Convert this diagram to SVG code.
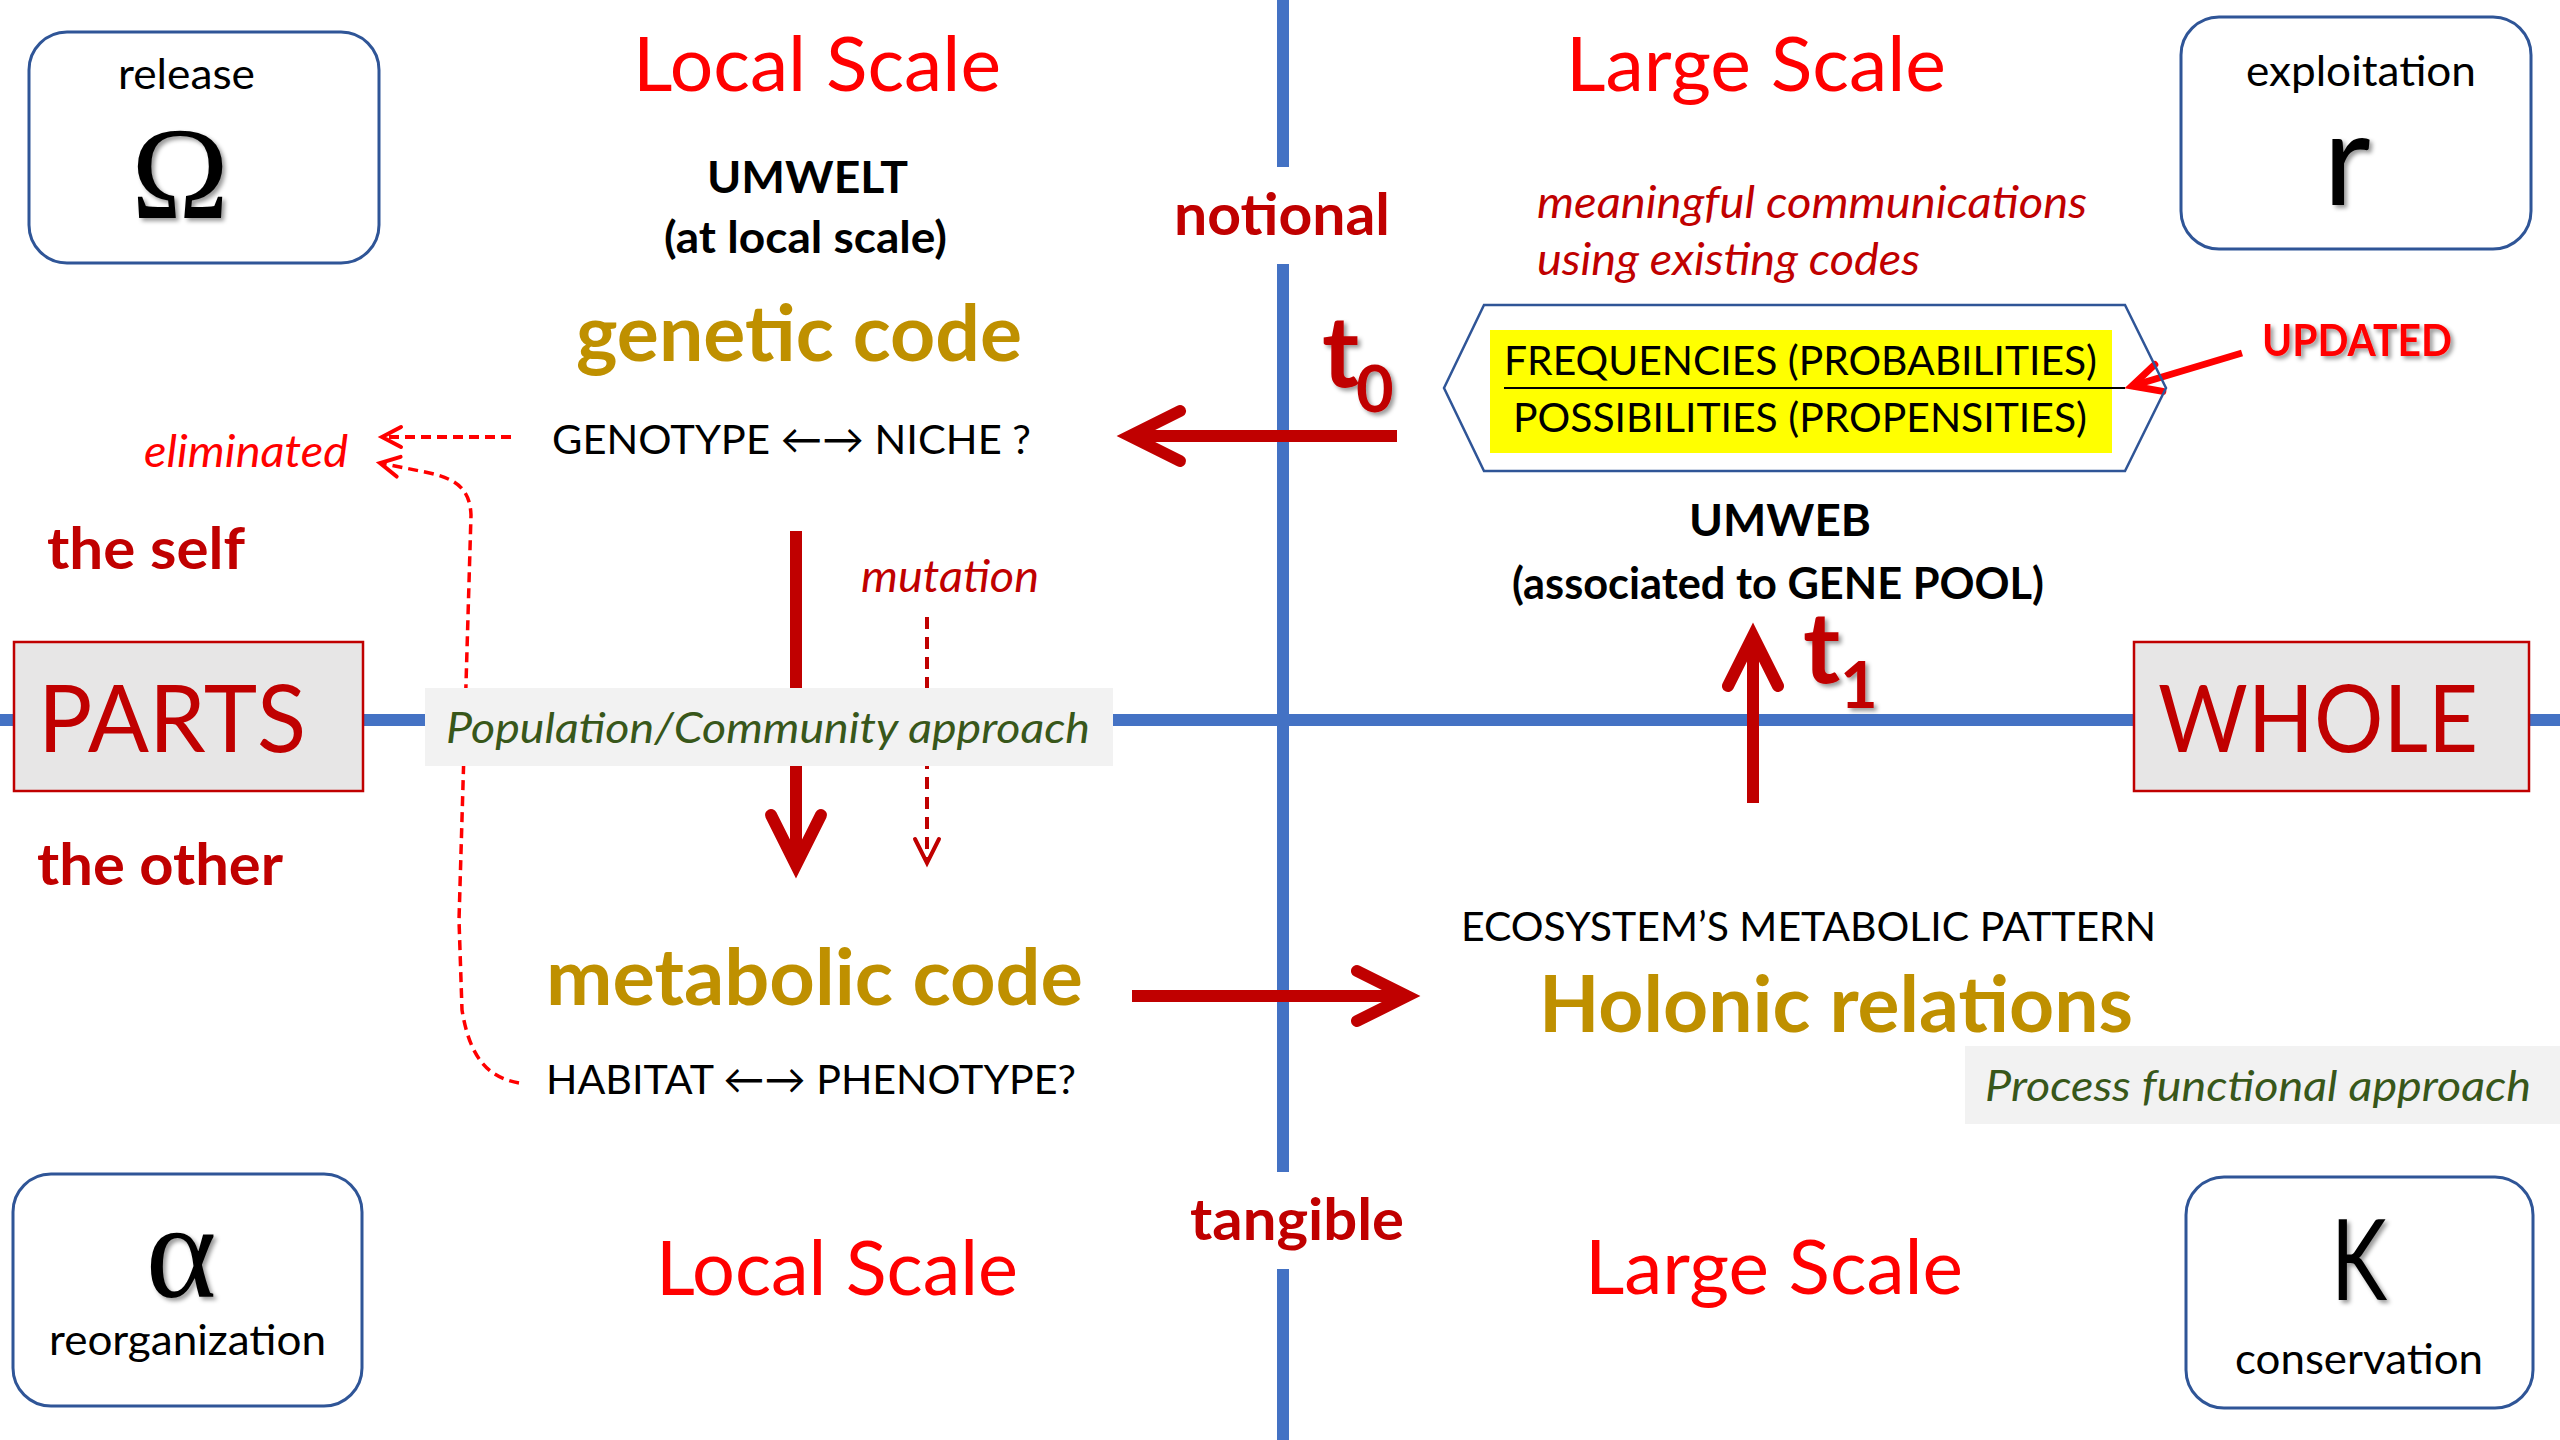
<svg xmlns="http://www.w3.org/2000/svg" width="2560" height="1440" viewBox="0 0 2560 1440">
<style>
  text { font-family: Lato, "Open Sans", "DejaVu Sans", sans-serif; }
  .box { fill: #ffffff; stroke: #2F5597; stroke-width: 3; }
  .lbl { font-size: 42px; fill: #000; }
  .greek { font-family: "Liberation Serif", "DejaVu Serif", serif; fill: #000; }
  .big { font-size: 76px; fill: #FF0000; }
  .dr { fill: #C00000; font-weight: bold; font-size: 58px; }
  .gold { fill: #BF9000; font-weight: bold; font-size: 78px; }
  .caps { font-size: 41px; fill: #000; }
  .ital-r { font-style: italic; fill: #C00000; font-size: 44px; }
  .green { font-style: italic; fill: #38571A; font-size: 42px; }
  .grey { fill: #F2F2F2; }
  .pw { fill: #E7E6E6; stroke: #C00000; stroke-width: 2.5; }
  .pwt { fill: #C00000; font-size: 93px; }
  .axis { stroke: #4472C4; stroke-width: 12; fill: none; }
  .thick { stroke: #C00000; stroke-width: 12; fill: none; }
  .blk { font-weight: bold; font-size: 44px; fill: #000; }
</style>
<defs>
  <filter id="sh" x="-20%" y="-20%" width="150%" height="150%">
    <feDropShadow dx="3" dy="3" stdDeviation="2" flood-color="#000" flood-opacity="0.4"/>
  </filter>
  <marker id="mBig" markerUnits="userSpaceOnUse" viewBox="-70 -40 90 80" markerWidth="90" markerHeight="80" refX="0" refY="0" orient="auto" overflow="visible">
    <path d="M -50 -25 L 0 0 L -50 25" fill="none" stroke="#C00000" stroke-width="12" stroke-linecap="round" stroke-linejoin="miter"/>
  </marker>
  <marker id="mUpd" markerUnits="userSpaceOnUse" viewBox="-40 -25 50 50" markerWidth="50" markerHeight="50" refX="0" refY="0" orient="auto" overflow="visible">
    <path d="M -28 -14 L 0 0 L -28 14" fill="none" stroke="#FF0000" stroke-width="7" stroke-linecap="round" stroke-linejoin="miter"/>
  </marker>
  <marker id="mDashR" markerUnits="userSpaceOnUse" viewBox="-30 -20 40 40" markerWidth="40" markerHeight="40" refX="0" refY="0" orient="auto" overflow="visible">
    <path d="M -19 -10 L 0 0 L -19 10" fill="none" stroke="#FF0000" stroke-width="4" stroke-linecap="round" stroke-linejoin="miter"/>
  </marker>
  <marker id="mDashDR" markerUnits="userSpaceOnUse" viewBox="-30 -20 40 40" markerWidth="40" markerHeight="40" refX="0" refY="0" orient="auto" overflow="visible">
    <path d="M -24 -12 L 0 0 L -24 12" fill="none" stroke="#C00000" stroke-width="4" stroke-linecap="round" stroke-linejoin="miter"/>
  </marker>
</defs>
<rect width="2560" height="1440" fill="#ffffff"/>

<g id="axes">
  <line class="axis" x1="1283" y1="0" x2="1283" y2="167"/>
  <line class="axis" x1="1283" y1="264" x2="1283" y2="1172"/>
  <line class="axis" x1="1283" y1="1269" x2="1283" y2="1440"/>
  <line class="axis" x1="0" y1="720" x2="2560" y2="720"/>
</g>

<g id="connectors">
  <path id="c-t0" class="thick" d="M 1397 436 L 1130 436" marker-end="url(#mBig)"/>
  <path id="c-t1" class="thick" d="M 1753 803 L 1753 636" marker-end="url(#mBig)"/>
  <path id="c-down" class="thick" d="M 796 531 L 796 865" marker-end="url(#mBig)"/>
  <path id="c-holo" class="thick" d="M 1132 996 L 1407 996" stroke-width="11" marker-end="url(#mBig)"/>
  <path id="c-upd" d="M 2242 353 L 2132 386" fill="none" stroke="#FF0000" stroke-width="7" marker-end="url(#mUpd)"/>
  <path id="c-elim1" d="M 511 437 L 382 437" fill="none" stroke="#FF0000" stroke-width="4" stroke-dasharray="10 6" marker-end="url(#mDashR)"/>
  <path id="c-elim2" d="M 519 1083 C 490 1078 470 1060 462 1010 L 459 920 L 471 515 C 470 488 455 478 425 472 L 380 463" fill="none" stroke="#FF0000" stroke-width="3.5" stroke-dasharray="10 6" marker-end="url(#mDashR)"/>
  <path id="c-mut" d="M 927 617 L 927 863" fill="none" stroke="#C00000" stroke-width="4" stroke-dasharray="12 8" marker-end="url(#mDashDR)"/>
</g>

<g id="node-release">
  <rect class="box" x="29" y="32" width="350" height="231" rx="38" ry="38"/>
  <text class="lbl" x="118" y="89" font-size="40" textLength="137" lengthAdjust="spacingAndGlyphs">release</text>
  <text class="greek" x="180" y="218" font-size="132" text-anchor="middle" filter="url(#sh)">Ω</text>
</g>

<g id="node-exploitation">
  <rect class="box" x="2181" y="17" width="350" height="232" rx="38" ry="38"/>
  <text class="lbl" x="2246" y="86" textLength="230" lengthAdjust="spacingAndGlyphs">exploitation</text>
  <text x="2347" y="205" font-size="130" fill="#000" text-anchor="middle" filter="url(#sh)">r</text>
</g>

<g id="node-reorganization">
  <rect class="box" x="13" y="1174" width="349" height="232" rx="38" ry="38"/>
  <text class="greek" x="181" y="1297" font-size="135" text-anchor="middle" filter="url(#sh)">α</text>
  <text class="lbl" x="49" y="1355" textLength="277" lengthAdjust="spacingAndGlyphs">reorganization</text>
</g>

<g id="node-conservation">
  <rect class="box" x="2186" y="1177" width="347" height="231" rx="38" ry="38"/>
  <text x="2331" y="1300" font-size="112" fill="#000" textLength="56" lengthAdjust="spacingAndGlyphs" filter="url(#sh)">K</text>
  <text class="lbl" x="2235" y="1374" textLength="248" lengthAdjust="spacingAndGlyphs">conservation</text>
</g>

<g id="scale-labels">
  <text class="big" x="633" y="91" textLength="368" lengthAdjust="spacingAndGlyphs">Local Scale</text>
  <text class="big" x="1566" y="91" textLength="380" lengthAdjust="spacingAndGlyphs">Large Scale</text>
  <text class="big" x="656" y="1295" textLength="362" lengthAdjust="spacingAndGlyphs">Local Scale</text>
  <text class="big" x="1585" y="1294" textLength="378" lengthAdjust="spacingAndGlyphs">Large Scale</text>
</g>

<g id="node-umwelt">
  <text class="blk" x="707" y="193" textLength="201" lengthAdjust="spacingAndGlyphs">UMWELT</text>
  <text class="blk" x="664" y="253" textLength="283" lengthAdjust="spacingAndGlyphs">(at local scale)</text>
</g>

<g id="axis-labels">
  <text class="dr" x="1174" y="235" textLength="216" lengthAdjust="spacingAndGlyphs">notional</text>
  <text class="dr" x="1190" y="1240" textLength="214" lengthAdjust="spacingAndGlyphs">tangible</text>
  <text class="dr" x="47" y="569" textLength="198" lengthAdjust="spacingAndGlyphs">the self</text>
  <text class="dr" x="37" y="885" textLength="246" lengthAdjust="spacingAndGlyphs">the other</text>
</g>

<g id="node-genetic">
  <text class="gold" x="576" y="361" textLength="446" lengthAdjust="spacingAndGlyphs">genetic code</text>
  <text class="caps" x="552" y="454" textLength="479" lengthAdjust="spacingAndGlyphs">GENOTYPE ←→ NICHE ?</text>
</g>

<g id="node-eliminated">
  <text class="ital-r" x="144" y="467" font-size="42" style="fill:#FF0000" textLength="204" lengthAdjust="spacingAndGlyphs">eliminated</text>
</g>

<g id="node-mutation">
  <text class="ital-r" x="861" y="592" font-size="42" textLength="178" lengthAdjust="spacingAndGlyphs">mutation</text>
</g>

<g id="node-metabolic">
  <text class="gold" x="546" y="1005" textLength="537" lengthAdjust="spacingAndGlyphs">metabolic code</text>
  <text class="caps" x="546" y="1094" textLength="530" lengthAdjust="spacingAndGlyphs">HABITAT ←→ PHENOTYPE?</text>
</g>

<g id="node-parts">
  <rect class="pw" x="14" y="642" width="349" height="149"/>
  <text class="pwt" x="38" y="752" textLength="268" lengthAdjust="spacingAndGlyphs">PARTS</text>
</g>

<g id="node-whole">
  <rect class="pw" x="2134" y="642" width="395" height="149"/>
  <text class="pwt" x="2158" y="752" textLength="320" lengthAdjust="spacingAndGlyphs">WHOLE</text>
</g>

<g id="node-population">
  <rect class="grey" x="425" y="688" width="688" height="78"/>
  <text class="green" x="446" y="743" textLength="644" lengthAdjust="spacingAndGlyphs">Population/Community approach</text>
</g>

<g id="node-t0">
  <text x="1322" y="387" font-size="100" font-weight="bold" fill="#C00000" filter="url(#sh)">t</text>
  <text x="1356" y="412" font-size="65" font-weight="bold" fill="#C00000" filter="url(#sh)">0</text>
</g>

<g id="node-meaningful">
  <text class="ital-r" x="1537" y="218" textLength="550" lengthAdjust="spacingAndGlyphs">meaningful communications</text>
  <text class="ital-r" x="1537" y="275" textLength="383" lengthAdjust="spacingAndGlyphs">using existing codes</text>
</g>

<g id="node-frequencies">
  <polygon points="1444,388 1484,305 2125,305 2166,388 2125,471 1484,471" fill="none" stroke="#2F5597" stroke-width="2.5"/>
  <rect x="1490" y="330" width="622" height="123" fill="#FFFF00"/>
  <line x1="1504" y1="388" x2="2125" y2="388" stroke="#000" stroke-width="2"/>
  <text class="caps" x="1504" y="375" font-size="42" textLength="593" lengthAdjust="spacingAndGlyphs">FREQUENCIES (PROBABILITIES)</text>
  <text class="caps" x="1513" y="432" font-size="42" textLength="574" lengthAdjust="spacingAndGlyphs">POSSIBILITIES (PROPENSITIES)</text>
</g>

<g id="node-updated">
  <text x="2262" y="356" font-size="44" font-weight="bold" fill="#FF0000" textLength="190" lengthAdjust="spacingAndGlyphs" filter="url(#sh)">UPDATED</text>
</g>

<g id="node-umweb">
  <text class="blk" x="1689" y="536" textLength="182" lengthAdjust="spacingAndGlyphs">UMWEB</text>
  <text class="blk" x="1512" y="599" textLength="532" lengthAdjust="spacingAndGlyphs">(associated to GENE POOL)</text>
</g>

<g id="node-t1">
  <text x="1803" y="683" font-size="100" font-weight="bold" fill="#C00000" filter="url(#sh)">t</text>
  <text x="1840" y="708" font-size="65" font-weight="bold" fill="#C00000" filter="url(#sh)">1</text>
</g>

<g id="node-holonic">
  <text class="caps" x="1461" y="941" textLength="695" lengthAdjust="spacingAndGlyphs">ECOSYSTEM’S METABOLIC PATTERN</text>
  <text class="gold" x="1539" y="1032" textLength="594" lengthAdjust="spacingAndGlyphs">Holonic relations</text>
</g>

<g id="node-process">
  <rect class="grey" x="1965" y="1046" width="595" height="78"/>
  <text class="green" x="1985" y="1101" textLength="546" lengthAdjust="spacingAndGlyphs">Process functional approach</text>
</g>
</svg>
